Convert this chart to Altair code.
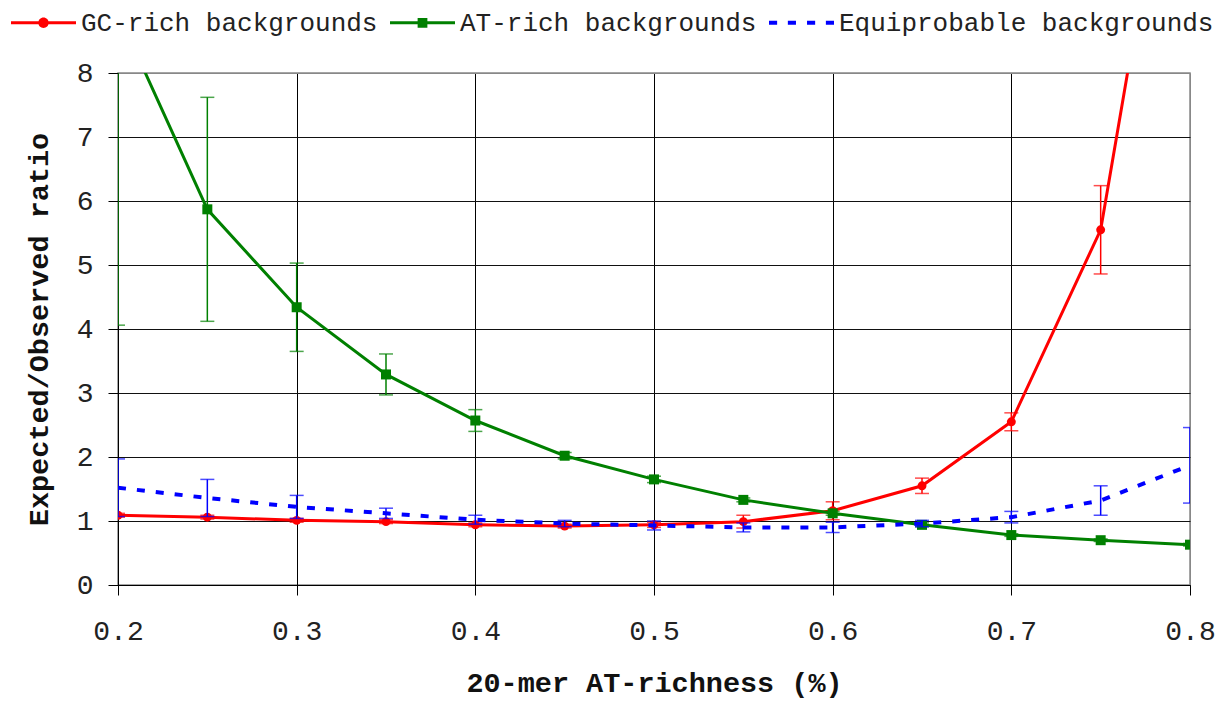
import altair as alt
import pandas as pd

# ---- data ----
at_richness = [0.2, 0.25, 0.3, 0.35, 0.4, 0.45, 0.5, 0.55, 0.6, 0.65, 0.7, 0.75, 0.8]
series_names = ["GC-rich backgrounds", "AT-rich backgrounds", "Equiprobable backgrounds"]

gc_ratio = [1.09, 1.06, 1.01, 0.99, 0.94, 0.92, 0.94, 0.99, 1.16, 1.55, 2.55, 5.55, 13.7]
gc_err = [0.03, 0.03, 0.03, 0.03, 0.03, 0.03, 0.04, 0.10, 0.14, 0.12, 0.14, 0.69, 1.5]

at_ratio = [8.94, 5.87, 4.34, 3.29, 2.57, 2.02, 1.65, 1.33, 1.12, 0.94, 0.78, 0.70, 0.63]
at_err = [4.88, 1.75, 0.69, 0.32, 0.17, 0.05, 0.05, 0.03, 0.03, 0.03, 0.02, 0.02, 0.02]

eq_ratio = [1.52, 1.36, 1.22, 1.12, 1.02, 0.96, 0.93, 0.90, 0.90, 0.96, 1.06, 1.32, 1.87]
eq_err = [0.45, 0.29, 0.18, 0.08, 0.07, 0.05, 0.07, 0.07, 0.08, 0.05, 0.09, 0.23, 0.59]

x_ticks = [0.2, 0.3, 0.4, 0.5, 0.6, 0.7, 0.8]
y_ticks = [0, 1, 2, 3, 4, 5, 6, 7, 8]

colors = ["#ff0000", "#008000", "#0000ff"]

rows = []
for name, vals, errs in zip(series_names, [gc_ratio, at_ratio, eq_ratio], [gc_err, at_err, eq_err]):
    for xv, v, e in zip(at_richness, vals, errs):
        rows.append({"x": xv, "y": v, "lo": v - e, "hi": v + e, "series": name})
df = pd.DataFrame(rows)

FONT = "Liberation Mono"

xscale = alt.Scale(domain=[0.2, 0.8], nice=False, zero=False)
yscale = alt.Scale(domain=[0, 8], nice=False)

xaxis = alt.Axis(
    values=x_ticks, format=".1f", title="20-mer AT-richness (%)",
    grid=True, labelFlush=False,
    gridColor=alt.condition("datum.value > 0.79", alt.value("#888888"), alt.value("#000000")),
    labelPadding=22, titlePadding=23,
)
yaxis = alt.Axis(
    values=y_ticks, format="d", title="Expected/Observed ratio",
    grid=True, labelFlush=False,
    gridColor=alt.condition("datum.value > 7.9", alt.value("#888888"), alt.value("#111111")),
    labelPadding=15, titlePadding=23,
)

X = alt.X("x:Q", scale=xscale, axis=xaxis)
Y = alt.Y("y:Q", scale=yscale, axis=yaxis)

base = alt.Chart(df)

layers = []
for name, col in zip(series_names, colors):
    sub = base.transform_filter(alt.datum.series == name)
    layers.append(sub.mark_rule(color=col, strokeWidth=1.5, clip=True).encode(
        x="x:Q", y="lo:Q", y2="hi:Q"))
    layers.append(sub.mark_tick(color=col, orient="horizontal", size=14, thickness=1.5, clip=True).encode(
        x="x:Q", y="hi:Q"))
    layers.append(sub.mark_tick(color=col, orient="horizontal", size=14, thickness=1.5, clip=True).encode(
        x="x:Q", y="lo:Q"))
    if name == "Equiprobable backgrounds":
        layers.append(sub.mark_line(color=col, strokeWidth=4, strokeDash=[8, 11], clip=True).encode(
            x=X, y=Y))
    else:
        layers.append(sub.mark_line(color=col, strokeWidth=3, clip=True).encode(x=X, y=Y))
        shp = "circle" if name.startswith("GC") else "square"
        sz = 80 if shp == "circle" else 100
        layers.append(sub.mark_point(color=col, filled=True, shape=shp, size=sz, opacity=1, clip=True).encode(
            x="x:Q", y="y:Q"))

# legend symbols: a line with a marker, drawn as custom symbol paths
line_bar = "M-1,-0.046 L1,-0.046 L1,0.046 L-1,0.046 Z"
circ = " M0.16,0 A0.16,0.16 0 1,1 -0.16,0 A0.16,0.16 0 1,1 0.16,0 Z"
sq = " M-0.15,-0.15 L0.15,-0.15 L0.15,0.15 L-0.15,0.15 Z"
dashes = (" M-1,-0.065 L-0.75,-0.065 L-0.75,0.065 L-1,0.065 Z"
          " M-0.42,-0.065 L-0.17,-0.065 L-0.17,0.065 L-0.42,0.065 Z"
          " M0.17,-0.065 L0.42,-0.065 L0.42,0.065 L0.17,0.065 Z"
          " M0.75,-0.065 L1,-0.065 L1,0.065 L0.75,0.065 Z")
shape_paths = [line_bar + circ, line_bar + sq, dashes.strip()]

leg = alt.Legend(
    title=None, orient="none", legendX=-107, legendY=-83, direction="horizontal",
    columns=3, symbolSize=4225, symbolStrokeWidth=0, symbolOpacity=1,
    labelFont=FONT, labelFontSize=26, labelColor="#222222", labelOffset=5,
    columnPadding=12, padding=0, labelLimit=600,
)
legend_layer = base.mark_point(filled=True, opacity=0).encode(
    x="x:Q", y="y:Q",
    color=alt.Color("series:N", scale=alt.Scale(domain=series_names, range=colors), legend=leg),
    shape=alt.Shape("series:N", scale=alt.Scale(domain=series_names, range=shape_paths), legend=leg),
)

chart = alt.layer(legend_layer, *layers).properties(
    width=1072, height=512,
    autosize=alt.AutoSizeParams(type="none"),
    padding={"left": 118, "top": 73, "right": 27, "bottom": 116},
    background="white",
).configure_view(
    stroke="#888888", strokeWidth=1.5,
).configure_axis(
    labelFont=FONT, labelFontSize=28, labelColor="#222222",
    titleFont=FONT, titleFontSize=28.5, titleFontWeight="bold", titleColor="#111111",
    tickSize=10, tickColor="#000000", tickWidth=1,
    domainColor="#000000", domainWidth=1, gridWidth=1, gridOpacity=1,
)

chart.save("out.html", embed_options={"renderer": "svg", "actions": False})
